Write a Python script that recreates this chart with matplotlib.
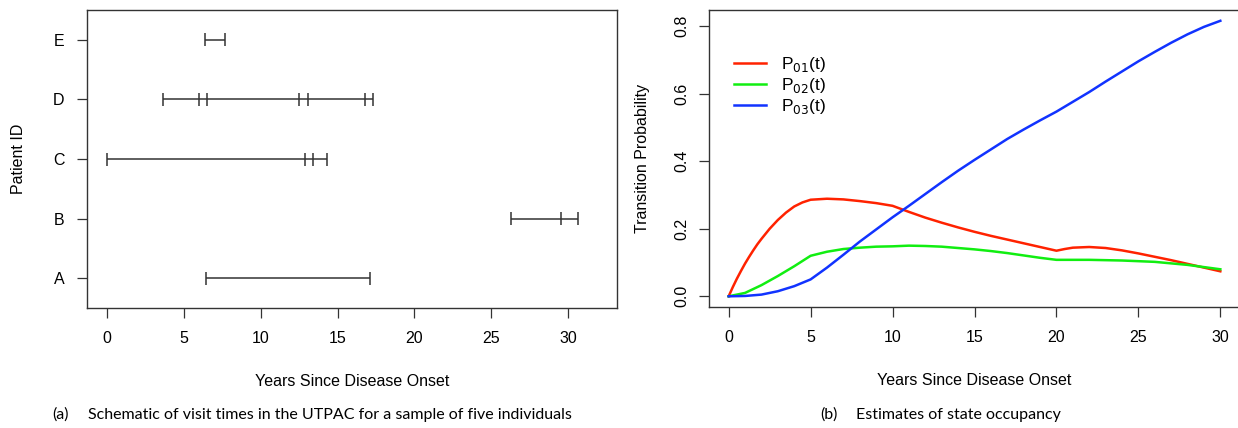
import numpy as np
import matplotlib
matplotlib.use("Agg")
import matplotlib.pyplot as plt

# ---- panel (a): visit times per patient
patients = ["A", "B", "C", "D", "E"]
visits_A = [6.44, 17.1]
visits_B = [26.3, 29.5, 30.6]
visits_C = [0.05, 12.9, 13.4, 14.3]
visits_D = [3.66, 5.99, 6.55, 12.5, 13.06, 16.8, 17.3]
visits_E = [6.38, 7.68]
visits = [visits_A, visits_B, visits_C, visits_D, visits_E]

# ---- panel (b): transition probabilities
t_red = [0, 0.25, 0.5, 0.75, 1, 1.25, 1.5, 1.75, 2, 2.5, 3, 3.5, 4, 4.5, 5, 6, 7, 8, 9, 10,
         11, 12, 13, 14, 15, 16, 17, 18, 19, 20, 20.5, 21, 22, 23, 24, 25, 26, 27, 28, 29, 30]
p01 = [0, 0.027, 0.052, 0.075, 0.097, 0.117, 0.136, 0.154, 0.17, 0.2, 0.226, 0.248, 0.266,
       0.278, 0.286, 0.289, 0.287, 0.282, 0.276, 0.268, 0.25, 0.233, 0.218, 0.204, 0.191,
       0.179, 0.168, 0.157, 0.146, 0.135, 0.14, 0.144, 0.146, 0.143, 0.136, 0.127, 0.117,
       0.107, 0.096, 0.085, 0.074]
t_green = [0, 1, 2, 3, 4, 5, 6, 7, 8, 9, 10, 11, 12, 13, 14, 15, 16, 17, 18, 19, 20,
           22, 24, 26, 28, 30]
p02 = [0, 0.01, 0.033, 0.06, 0.089, 0.12, 0.132, 0.14, 0.144, 0.147, 0.148, 0.15, 0.149,
       0.147, 0.143, 0.139, 0.134, 0.128, 0.121, 0.114, 0.108, 0.108, 0.106, 0.102, 0.093, 0.08]
t_blue = list(range(0, 31))
p03 = [0, 0.001, 0.005, 0.015, 0.03, 0.05, 0.085, 0.123, 0.162, 0.198, 0.234, 0.268, 0.303,
       0.338, 0.372, 0.404, 0.435, 0.466, 0.494, 0.521, 0.547, 0.576, 0.605, 0.636, 0.666,
       0.696, 0.724, 0.751, 0.776, 0.798, 0.816]

plt.rcParams['font.family'] = ['Liberation Sans', 'DejaVu Sans']
W, H = 1238, 428
fig = plt.figure(figsize=(W / 100, H / 100), dpi=100)

def box(l, r, t, b):
    return [l / W, 1 - b / H, (r - l) / W, (b - t) / H]

frame_col = '#333333'

def style(ax):
    for s in ax.spines.values():
        s.set_color(frame_col)
        s.set_linewidth(1.0)
    ax.tick_params(length=7, width=0.9, color=frame_col, labelsize=11.5, pad=9.5)

# ---- left panel
ax1 = fig.add_axes(box(87.3, 616.7, 10, 308.3))
style(ax1)
for i, v in enumerate(visits):
    y = i + 1
    ax1.hlines(y, min(v), max(v), color=frame_col, lw=1.1)
    ax1.vlines(v, y - 0.11, y + 0.11, color=frame_col, lw=1.1)
ax1.set_xlim(-1.26, 33.14)
ax1.set_ylim(0.5, 5.5)
ax1.set_xticks([0, 5, 10, 15, 20, 25, 30])
ax1.set_yticks(range(1, 6))
ax1.set_yticklabels(patients)
ax1.set_xlabel("Years Since Disease Onset", fontsize=11.5, labelpad=20)
ax1.set_ylabel("Patient ID", fontsize=11.5, labelpad=19)

# ---- right panel
ax2 = fig.add_axes(box(709, 1240, 10, 307.3))
style(ax2)
ax2.tick_params(axis='y', pad=7)
ax2.plot(t_red, p01, color='#ff2200', lw=1.8, label=r'P$_{01}$(t)')
ax2.plot(t_green, p02, color='#11ee11', lw=1.8, label=r'P$_{02}$(t)')
ax2.plot(t_blue, p03, color='#1133ff', lw=1.8, label=r'P$_{03}$(t)')
ax2.set_xlim(-1.2, 31.2)
ax2.set_ylim(-0.0326, 0.848)
ax2.set_xticks([0, 5, 10, 15, 20, 25, 30])
ax2.set_yticks([0.0, 0.2, 0.4, 0.6, 0.8])
ax2.set_yticklabels(["0.0", "0.2", "0.4", "0.6", "0.8"], rotation=90, va='center')
ax2.set_xlabel("Years Since Disease Onset", fontsize=11.5, labelpad=20)
ax2.set_ylabel("Transition Probability", fontsize=11.5, labelpad=18)
ax2.legend(loc='upper left', bbox_to_anchor=(0.034, 0.872), frameon=False, fontsize=12.5,
           handlelength=1.84, labelspacing=0.12, borderaxespad=0.0, handletextpad=0.86)

# ---- captions
cap_font = ['Lato', 'Open Sans', 'DejaVu Sans']
cap_y = 1 - 415 / H
fig.text(52 / W, cap_y, "(a)", fontsize=11.5, family=cap_font, va='center')
fig.text(88 / W, cap_y, "Schematic of visit times in the UTPAC for a sample of five individuals",
         fontsize=11.5, family=cap_font, va='center')
fig.text(820 / W, cap_y, "(b)", fontsize=11.5, family=cap_font, va='center')
fig.text(856 / W, cap_y, "Estimates of state occupancy", fontsize=11.5, family=cap_font, va='center')

fig.savefig("out.png", dpi=100)
